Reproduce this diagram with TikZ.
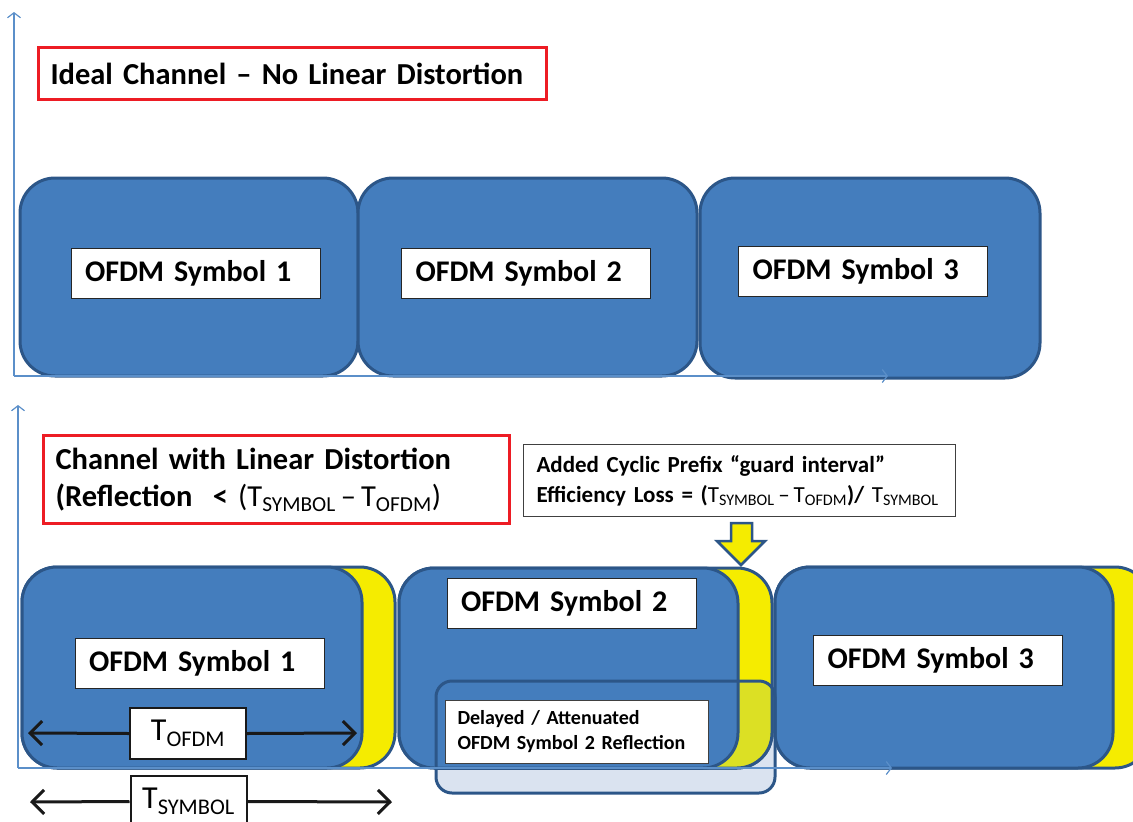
\documentclass[tikz,border=0pt]{standalone}
\usepackage{fontspec}
\setmainfont{Carlito}
\usetikzlibrary{arrows.meta}

\definecolor{symblue}{RGB}{68,125,189}
\definecolor{symedge}{RGB}{44,86,136}
\definecolor{cpyellow}{RGB}{245,236,0}
\definecolor{cpdim}{RGB}{220,224,36}
\definecolor{reflfill}{RGB}{218,227,240}
\definecolor{axblue}{RGB}{91,143,201}
\definecolor{titlered}{RGB}{237,28,36}

\newcommand\tightsp{\spaceskip=.2em\relax}

\tikzset{
  blk/.style={fill=symblue,draw=symedge,line width=3pt,rounded corners=35pt},
  cpx/.style={fill=cpyellow,draw=symedge,line width=3pt,rounded corners=35pt},
  lbl/.style={draw=black!85,fill=white,line width=1pt,minimum width=249pt,minimum height=50pt,
    text width=221pt,inner xsep=14pt,align=left,font=\fontsize{30}{34}\selectfont\bfseries\tightsp},
  ttl/.style={draw=titlered,line width=3pt,fill=white,anchor=north west,inner xsep=12pt,align=left,
    font=\fontsize{30.5}{37}\selectfont\bfseries\tightsp},
  note/.style={draw=black!75,fill=white,line width=1pt,anchor=north west,align=left},
  tbox/.style={draw=black!90,fill=white,line width=2pt,minimum width=116pt,minimum height=51pt,
    font=\fontsize{32}{36}\selectfont},
  axis/.style={draw=axblue,line width=1.2pt,-{Straight Barb[length=5pt,width=13pt]}},
  dimarr/.style={draw=black!90,line width=3pt,-{Straight Barb[length=12pt,width=24pt]}}
}

\begin{document}
\begin{tikzpicture}[x=1pt,y=-1pt]
    \useasboundingbox (0,0) rectangle (1133,822);

    % ideal channel
    \node[ttl,minimum width=508pt,minimum height=52pt,text width=484pt] (ttlA) at (37,46)
        {Ideal Channel -- No Linear Distortion};

    \draw[blk] (20,178) rectangle (358,376);
    \draw[blk] (358,178) rectangle (697,376);
    \draw[blk] (700,178) rectangle (1040,378);
    \node[lbl] (symA1) at (195.5,273.5) {OFDM Symbol 1};
    \node[lbl] (symA2) at (526,273.5) {OFDM Symbol 2};
    \node[lbl] (symA3) at (863,271.5) {OFDM Symbol 3};

    \coordinate (oA) at (14,376);
    \coordinate (yA) at (14,12);
    \coordinate (xA) at (888,376);
    \draw[axis] (oA) -- (yA);
    \draw[axis] (oA) -- (xA);

    % channel with reflection
    \node[ttl,minimum width=466pt,minimum height=88pt,text width=442pt] (ttlB) at (42,434)
        {Channel with Linear Distortion\\(Reflection\ \ < {\mdseries(T\textsubscript{SYMBOL}\,--\,T\textsubscript{OFDM})}};

    \node[note,minimum width=432pt,minimum height=72pt,text width=414pt,inner xsep=9pt,
        font=\fontsize{23}{30}\selectfont\bfseries\tightsp] (guard) at (523,444)
        {\hspace*{4pt}Added Cyclic Prefix “guard interval”\\
         \hspace*{4pt}Efficiency Loss = ({\mdseries T\textsubscript{SYMBOL}\,--\,T\textsubscript{OFDM}})/\ {\mdseries T\textsubscript{SYMBOL}}};

    \filldraw[fill=cpyellow,draw=symedge,line width=2.5pt,line join=miter]
        (731,523) -- (752,523) -- (752,541) -- (765,541) -- (741,565) -- (717,541) -- (731,541) -- cycle;

    \fill[reflfill,rounded corners=16pt] (436,681) rectangle (775,793);

    \draw[cpx] (22,567) rectangle (395,768);
    \draw[blk] (22,567) rectangle (362,768);
    \draw[cpx] (399,568) rectangle (772,768);
    \draw[blk] (399,568) rectangle (738,768);
    \begin{scope}
        \clip[rounded corners=16pt] (436,681) rectangle (775,793);
        \draw[cpx,fill=cpdim] (399,568) rectangle (772,768);
        \draw[blk] (399,568) rectangle (738,768);
    \end{scope}
    \draw[cpx] (775,567) rectangle (1150,768);
    \draw[blk] (775,567) rectangle (1113,768);
    \draw[symedge,line width=3pt,rounded corners=16pt] (436,681) rectangle (775,793);

    \node[lbl] (symB1) at (199.5,663.5) {OFDM Symbol 1};
    \node[lbl] (symB2) at (571.5,603) {OFDM Symbol 2};
    \node[lbl] (symB3) at (938,660.5) {OFDM Symbol 3};
    \node[note,minimum width=263pt,minimum height=63pt,text width=239pt,inner xsep=12pt,
        font=\fontsize{20}{25}\selectfont\bfseries\tightsp] (refl) at (445,700)
        {Delayed / Attenuated\\OFDM Symbol 2 Reflection};

    \coordinate (oB) at (18,768);
    \coordinate (yB) at (18,405);
    \coordinate (xB) at (892,768);
    \draw[axis] (oB) -- (yB);
    \draw[axis] (oB) -- (xB);

    % durations
    \node[tbox] (tofdm) at (188,733.5) {T\textsubscript{OFDM}};
    \coordinate (tofdmL) at (28,733);
    \coordinate (tofdmR) at (357,733);
    \draw[dimarr] (tofdm.west) -- (tofdmL);
    \draw[dimarr] (tofdm.east) -- (tofdmR);

    \node[tbox] (tsym) at (188.5,801.5) {T\textsubscript{SYMBOL}};
    \coordinate (tsymL) at (30,802);
    \coordinate (tsymR) at (392,802);
    \draw[dimarr] (tsym.west) -- (tsymL);
    \draw[dimarr] (tsym.east) -- (tsymR);
\end{tikzpicture}
\end{document}
